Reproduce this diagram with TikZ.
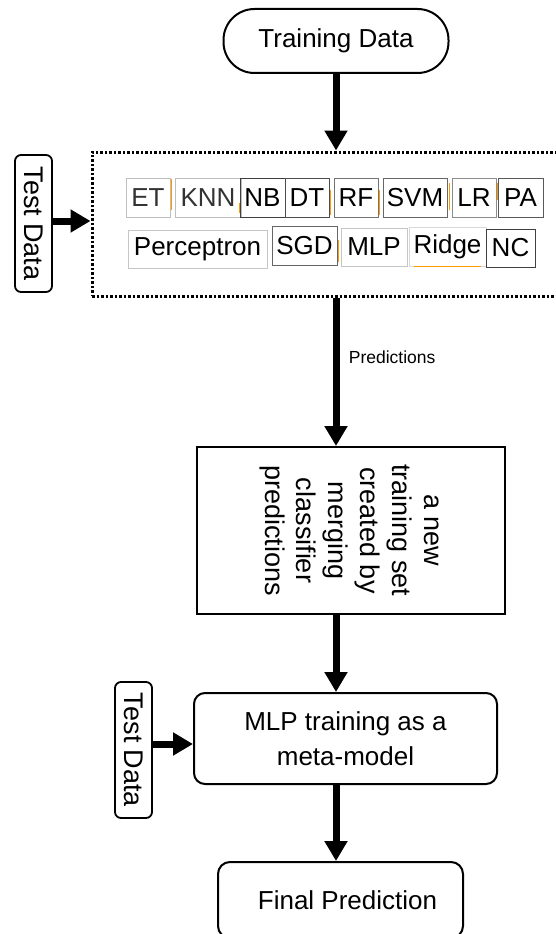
\documentclass[tikz,border=0pt]{standalone}
\usepackage{fontspec}
\setmainfont{Liberation Sans}
\usepackage{graphicx}
\usetikzlibrary{arrows.meta}
\begin{document}
\begin{tikzpicture}[x=1pt,y=-1pt,
  bigarrow/.style={line width=7pt,-{Triangle[length=20pt,width=22pt]}},
  clf/.style={draw=#1,line width=0.9pt,inner sep=0pt,font=\fontsize{26}{30}\selectfont},
  clf/.default=gray,
  bigfont/.style={font=\fontsize{26}{35}\selectfont},
  testbox/.style={draw,line width=1.8pt,rounded corners=6pt,inner sep=0pt,font=\fontsize{27}{30}\selectfont},
  orangetick/.style={draw=orange!80!yellow,line width=1pt}
]
\useasboundingbox (0,0) rectangle (556,934);

% Training data
\node[draw,line width=2pt,rounded corners=31pt,minimum width=225pt,minimum height=64pt,bigfont] (train) at (336,41) {Training Data};

% Ensemble dotted box
\node[draw,line width=3pt,dash pattern=on 2.5pt off 2pt,minimum width=480pt,minimum height=144pt] (ens) at (332,224) {};

% Test data (upper)
\node[testbox,minimum width=37pt,minimum height=137pt] (test1) at (33.5,223.5) {\rotatebox{-90}{Test Data}};

% classifier boxes, row 1
\node[clf=gray!50,minimum width=44pt,minimum height=39pt,text=black!80] (et) at (148,197.5) {ET};
\node[clf=gray!50,minimum width=66pt,minimum height=39pt,text=black!80] (knn) at (208,197.5) {KNN};
\node[clf=black!75,minimum width=45pt,minimum height=39pt] (nb) at (262.5,197.5) {NB};
\node[clf=black!70,minimum width=44pt,minimum height=39pt] (dt) at (307,197.5) {DT};
\node[clf=black!55,minimum width=44pt,minimum height=39pt] (rf) at (356,197.5) {RF};
\node[clf=black!60,minimum width=64pt,minimum height=39pt] (svm) at (415,197.5) {SVM};
\node[clf=black!45,minimum width=44pt,minimum height=39pt] (lr) at (474,197.5) {LR};
\node[clf=black!65,minimum width=45pt,minimum height=39pt] (pa) at (520.5,197.5) {PA};
% row 2
\node[clf=gray!45,minimum width=139pt,minimum height=38pt] (perc) at (197.5,249) {Perceptron};
\node[clf=black!60,minimum width=65pt,minimum height=39pt] (sgd) at (304.5,246) {SGD};
\node[clf=gray!45,minimum width=66pt,minimum height=38pt] (mlpc) at (374,247) {MLP};
\node[clf=gray!30,minimum width=77pt,minimum height=39pt] (ridge) at (447.5,246.5) {Ridge};
\node[clf=black!75,minimum width=49pt,minimum height=38pt] (nc) at (510.5,248) {NC};

% small orange marks
\draw[orangetick] (171,179) -- (171,210);
\draw[orangetick] (239,203) -- (239,213);
\draw[orangetick] (330,190) -- (330,215);
\draw[orangetick] (379,190) -- (379,215);
\draw[orangetick] (449,183) -- (449,210);
\draw[orangetick] (497,183) -- (497,200);
\draw[orangetick] (338,240) -- (338,262);
\draw[orangetick] (414,266) -- (481,266);

% new training set box
\node[draw,line width=2pt,minimum width=308pt,minimum height=167pt,inner sep=0pt] (newset) at (351,530.5)
  {\fontsize{27}{31.8}\selectfont\rotatebox{-90}{\begin{tabular}{@{}c@{}}a new\\training set\\created by\\merging\\classifier\\predictions\end{tabular}}};

% MLP meta-model box
\node[draw,line width=2pt,rounded corners=11pt,minimum width=303pt,minimum height=91pt,align=center,bigfont] (mlp) at (345.5,738.5) {MLP training as a\\meta-model};

% Test data (lower)
\node[testbox,minimum width=37pt,minimum height=136pt] (test2) at (133.5,750) {\rotatebox{-90}{Test Data}};

% Final prediction
\node[draw,line width=2pt,rounded corners=12pt,minimum width=245pt,minimum height=76pt,bigfont] (final) at (340.5,900) {\hspace*{14pt}Final Prediction};

% connectors
\draw[bigarrow] (train.south) -- (train.south |- ens.north);
\draw[bigarrow] ([yshift=2.5pt]test1.east) coordinate (t1) -- (t1 -| ens.west);
\draw[bigarrow] (ens.south -| train.south) -- (newset.north -| train.south)
  node[pos=0.4,right=6pt,font=\fontsize{17.5}{20}\selectfont] (predlbl) {Predictions};
\draw[bigarrow] (newset.south -| train.south) -- (mlp.north -| train.south);
\draw[bigarrow] ([yshift=6pt]test2.east) coordinate (t2) -- (t2 -| mlp.west);
\draw[bigarrow] (mlp.south -| train.south) -- (final.north -| train.south);
\end{tikzpicture}
\end{document}
